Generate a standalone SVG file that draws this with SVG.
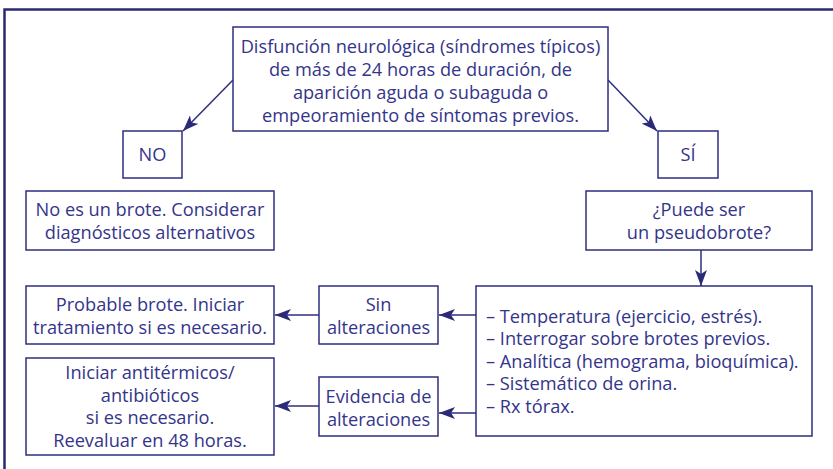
<svg xmlns="http://www.w3.org/2000/svg" width="833" height="469" viewBox="0 0 833 469">
<style>
.box{fill:#fff;stroke:#2e2e7e;stroke-width:1.5}
.t{font-family:"Open Sans","Liberation Sans",sans-serif;font-size:18.2px;fill:#34348a;text-anchor:middle}
.l{text-anchor:start}
.c{stroke:#2e2e7e;stroke-width:1.5;fill:none;marker-end:url(#ah)}
</style>
<defs>
<marker id="ah" markerUnits="userSpaceOnUse" markerWidth="17" markerHeight="12" refX="16" refY="6" orient="auto">
<path d="M0,0 L16,6 L0,12 L4,6 z" fill="#2a2a78"/>
</marker>
</defs>
<rect width="833" height="469" fill="#fff"/>
<path d="M4.5,469 V9.5 H833" fill="none" stroke="#2a2a72" stroke-width="2.5"/>
<g id="connectors">
<line class="c" x1="233" y1="80" x2="183" y2="131"/>
<line class="c" x1="608" y1="80" x2="657" y2="131"/>
<line class="c" x1="701" y1="250" x2="701" y2="286"/>
<line class="c" x1="476" y1="315" x2="439" y2="315"/>
<line class="c" x1="319" y1="315" x2="275" y2="315"/>
<line class="c" x1="476" y1="413" x2="439" y2="413"/>
<line class="c" x1="319" y1="406" x2="275" y2="406"/>
</g>
<g id="n-top">
<rect class="box" x="233" y="27" width="375" height="104"/>
<text class="t" x="420.5" y="53">Disfunción neurológica (síndromes típicos)</text>
<text class="t" x="420.5" y="76">de más de 24 horas de duración, de</text>
<text class="t" x="420.5" y="99">aparición aguda o subaguda o</text>
<text class="t" x="420.5" y="122">empeoramiento de síntomas previos.</text>
</g>
<g id="n-no">
<rect class="box" x="123" y="131" width="59" height="47"/>
<text class="t" x="152.5" y="161">NO</text>
</g>
<g id="n-si">
<rect class="box" x="658" y="131" width="60" height="47"/>
<text class="t" x="688" y="161">SÍ</text>
</g>
<g id="n-nobrote">
<rect class="box" x="26" y="191" width="248" height="59"/>
<text class="t" x="150" y="216">No es un brote. Considerar</text>
<text class="t" x="150" y="239">diagnósticos alternativos</text>
</g>
<g id="n-pseudo">
<rect class="box" x="586" y="191" width="226" height="59"/>
<text class="t" x="699" y="216">¿Puede ser</text>
<text class="t" x="699" y="239">un pseudobrote?</text>
</g>
<g id="n-probable">
<rect class="box" x="26" y="286" width="248" height="58"/>
<text class="t" x="150" y="311">Probable brote. Iniciar</text>
<text class="t" x="150" y="334">tratamiento si es necesario.</text>
</g>
<g id="n-sin">
<rect class="box" x="319" y="286" width="119" height="58"/>
<text class="t" x="378.5" y="311">Sin</text>
<text class="t" x="378.5" y="334">alteraciones</text>
</g>
<g id="n-list">
<rect class="box" x="476" y="286" width="336" height="150"/>
<text class="t l" x="486" y="323">– Temperatura (ejercicio, estrés).</text>
<text class="t l" x="486" y="345">– Interrogar sobre brotes previos.</text>
<text class="t l" x="486" y="368">– Analítica (hemograma, bioquímica).</text>
<text class="t l" x="486" y="390">– Sistemático de orina.</text>
<text class="t l" x="486" y="413">– Rx tórax.</text>
</g>
<g id="n-evid">
<rect class="box" x="319" y="377" width="119" height="59"/>
<text class="t" x="378.5" y="403">Evidencia de</text>
<text class="t" x="378.5" y="426">alteraciones</text>
</g>
<g id="n-iniciar">
<rect class="box" x="26" y="358" width="248" height="97"/>
<text class="t" x="150" y="379">Iniciar antitérmicos/</text>
<text class="t" x="150" y="402">antibióticos</text>
<text class="t" x="150" y="424">si es necesario.</text>
<text class="t" x="150" y="447">Reevaluar en 48 horas.</text>
</g>
</svg>
